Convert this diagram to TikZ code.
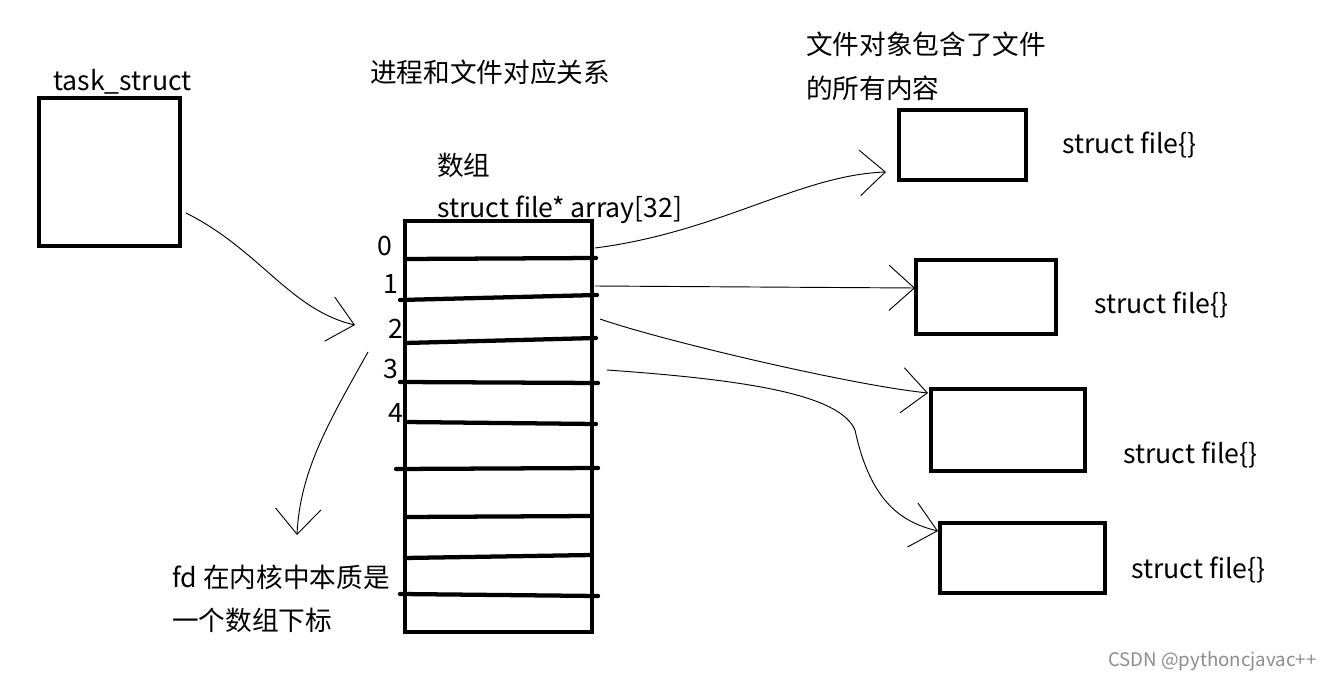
\documentclass[tikz,border=0pt]{standalone}
\usepackage{fontspec}
\setmainfont{Noto Sans CJK SC}
\usetikzlibrary{arrows.meta,positioning}

\begin{document}
\begin{tikzpicture}[x=0.75pt,y=-0.75pt]
\tikzset{
  box/.style={draw,line width=3pt,inner sep=0pt},
  txt/.style={anchor=west,inner sep=0pt,font=\fontsize{20}{24}\selectfont},
  rowline/.style={line width=3.2pt,line cap=round},
  handarrow/.style={-{Straight Barb[length=19pt,width=34pt,line width=0.7pt]},line width=0.7pt},
  watermark/.style={inner sep=0pt,font=\fontsize{14}{16}\selectfont,text=black!45}
}
\useasboundingbox (0,0) rectangle (1332,681);
% process and array
\node[box,minimum width=105.75pt,minimum height=111pt] (n_task) at (109.5,172) {};
\node[box,minimum width=140.25pt,minimum height=308.25pt] (n_arr) at (498.5,426.5) {};
\node[txt] (l_task) at (53,82) {task\_struct};
\node[txt] (l_title) at (370,72) {进程和文件对应关系};
\node[txt] (l_arr1) at (437,165) {数组};
\node[txt] (l_arr2) at (437,210) {struct file* array[32]};
\node[txt] (l_i0) at (377,246) {0};
\node[txt] (l_i1) at (383,284) {1};
\node[txt] (l_i2) at (388,329) {2};
\node[txt] (l_i3) at (383,369) {3};
\node[txt] (l_i4) at (388,413) {4};
\node[txt] (l_fd1) at (172,577) {fd 在内核中本质是};
\node[txt] (l_fd2) at (172,620) {一个数组下标};
% row lines
\draw[rowline] (405,259) -- (596,258);
\draw[rowline] (400,300) -- (597,295);
\draw[rowline] (405,343) -- (596,338);
\draw[rowline] (400,382) -- (598,383);
\draw[rowline] (405,422) -- (596,424);
\draw[rowline] (396,469) -- (598,468);
\draw[rowline] (405,517) -- (592,516);
\draw[rowline] (405,558) -- (592,555);
\draw[rowline] (400,594) -- (598,596);
% file objects
\node[txt] (l_obj1) at (806,44) {文件对象包含了文件};
\node[txt] (l_obj2) at (806,88) {的所有内容};
\node[box,minimum width=95.25pt,minimum height=52.5pt] (n_f0) at (962.5,145) {};
\node[box,minimum width=105pt,minimum height=55.5pt] (n_f1) at (986,297) {};
\node[box,minimum width=115.5pt,minimum height=61.5pt] (n_f2) at (1008,430) {};
\node[box,minimum width=123.75pt,minimum height=52.5pt] (n_f3) at (1022.5,558) {};
\node[txt] (l_f0) at (1062,145) {struct file\{\}};
\node[txt] (l_f1) at (1094,305) {struct file\{\}};
\node[txt] (l_f2) at (1123,455) {struct file\{\}};
\node[txt] (l_f3) at (1131,570) {struct file\{\}};
\node[watermark,anchor=west] (l_csdn) at (1108,661) {CSDN @pythoncjavac++};
% arrow ends
\coordinate (a_task) at (186,213);
\coordinate (t_arr) at (355,325);
\coordinate (a_fd) at (368,352);
\coordinate (t_fd) at (297,535);
\coordinate (a_0) at (595,248);
\coordinate (a_1) at (595,286);
\coordinate (a_2) at (600,319);
\coordinate (a_3) at (607,370);
\coordinate (t_f0) at (886,172);
\coordinate (t_f1) at (915,288);
\coordinate (t_f2) at (928,393);
\coordinate (t_f3) at (938,531);
\draw[handarrow] (a_task) .. controls (260,250) and (290,310) .. (t_arr);
\draw[handarrow] (a_fd) .. controls (330,420) and (300,470) .. (t_fd);
\draw[handarrow] (a_0) .. controls (720,232) and (800,175) .. (t_f0);
\draw[handarrow] (a_1) -- (t_f1);
\draw[handarrow] (a_2) .. controls (660,340) and (850,385) .. (t_f2);
\draw[handarrow] (a_3) .. controls (750,380) and (840,395) .. (855,430) .. controls (870,500) and (900,522) .. (t_f3);
\end{tikzpicture}
\end{document}
